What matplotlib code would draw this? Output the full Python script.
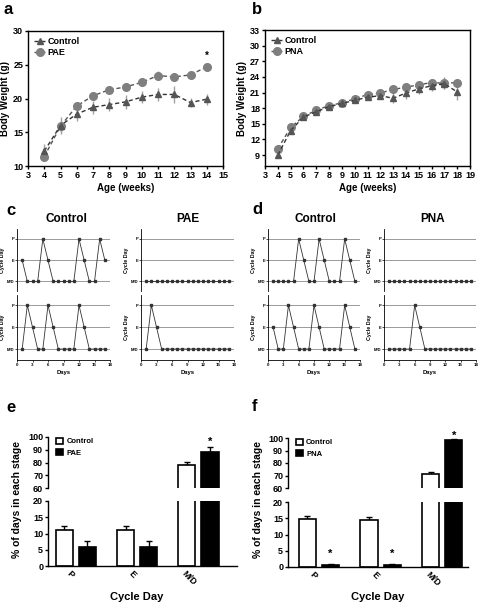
import matplotlib
matplotlib.use("Agg")
import matplotlib.pyplot as plt
import numpy as np

plt.rcParams['font.family'] = ['Liberation Sans', 'DejaVu Sans']
plt.rcParams['font.weight'] = 'bold'

# ---------------- data ----------------
weeks_a = [4, 5, 6, 7, 8, 9, 10, 11, 12, 13, 14]
ctrl_a = [12.2, 16.0, 17.7, 18.7, 19.1, 19.5, 20.2, 20.6, 20.6, 19.4, 19.9]
ctrl_a_err = [1.1, 1.3, 1.0, 1.0, 1.0, 1.0, 0.9, 1.0, 1.2, 0.7, 0.8]
pae_a = [11.4, 15.9, 18.9, 20.4, 21.3, 21.7, 22.4, 23.4, 23.2, 23.5, 24.7]
pae_a_err = [0.6, 0.8, 0.6, 0.6, 0.6, 0.6, 0.6, 0.7, 0.6, 0.5, 0.6]

weeks_b = [4, 5, 6, 7, 8, 9, 10, 11, 12, 13, 14, 15, 16, 17, 18]
ctrl_b = [9.0, 13.7, 16.3, 17.3, 18.3, 18.9, 19.5, 20.1, 20.4, 19.9, 20.9, 21.7, 22.3, 22.7, 21.1]
ctrl_b_err = [0.4, 0.5, 0.4, 0.4, 0.4, 0.4, 0.5, 0.5, 0.6, 1.0, 1.2, 1.0, 1.0, 1.0, 1.6]
pna_b = [10.2, 14.3, 16.4, 17.6, 18.5, 19.0, 19.8, 20.6, 20.9, 21.6, 22.0, 22.5, 22.9, 22.8, 22.9]
pna_b_err = [0.4, 0.4, 0.3, 0.4, 0.4, 0.4, 0.4, 0.4, 0.5, 0.5, 0.5, 0.6, 0.7, 1.2, 0.6]

days = list(range(1, 18))
stage_ticks = ['M/D', 'E', 'P']   # 0, 1, 2
ctrl_c_top = [1, 0, 0, 0, 2, 1, 0, 0, 0, 0, 0, 2, 1, 0, 0, 2, 1]
ctrl_c_bot = [0, 2, 1, 0, 0, 2, 1, 0, 0, 0, 0, 2, 1, 0, 0, 0, 0]
pae_c_top = [0] * 17
pae_c_bot = [0, 2, 1] + [0] * 14
ctrl_d_top = [0, 0, 0, 0, 0, 2, 1, 0, 0, 2, 1, 0, 0, 0, 2, 1, 0]
ctrl_d_bot = [1, 0, 0, 2, 1, 0, 0, 0, 2, 1, 0, 0, 0, 0, 2, 1, 0]
pna_d_top = [0] * 17
pna_d_bot = [0, 0, 0, 0, 0, 2, 1] + [0] * 10

stages = ['P', 'E', 'M/D']
ctrl_e = [11.0, 11.0, 78.0]
ctrl_e_err = [1.3, 1.3, 2.5]
pae_e = [6.0, 6.0, 88.5]
pae_e_err = [1.8, 1.8, 3.5]
ctrl_f = [14.8, 14.4, 71.0]
ctrl_f_err = [0.9, 1.0, 1.5]
pna_f = [0.6, 0.6, 98.7]
pna_f_err = [0.3, 0.3, 0.6]

W, H = 480, 607
fig = plt.figure(figsize=(W / 100, H / 100), dpi=100)


def add_ax(x0, y0, x1, y1):
    return fig.add_axes([x0 / W, 1 - y1 / H, (x1 - x0) / W, (y1 - y0) / H])


def ptxt(x, y, s, **kw):
    fig.text(x / W, 1 - y / H, s, **kw)


# ---------------- weight panels ----------------
def weight_panel(box, weeks, c, ce, t, te, tname, xlim, ylim, yticks, star_y=None):
    ax = add_ax(*box)
    ax.errorbar(weeks, c, yerr=ce, fmt='none', ecolor='#a0a0a0', elinewidth=1, zorder=1)
    ax.errorbar(weeks, t, yerr=te, fmt='none', ecolor='#a0a0a0', elinewidth=1, zorder=1)
    ax.plot(weeks, t, linestyle=(0, (3, 2)), color='#555555', lw=1.0, marker='o',
            ms=5.5, mfc='#7f7f7f', mec='#7f7f7f', label=tname, zorder=3)
    ax.plot(weeks, c, linestyle=(0, (3, 2)), color='#333333', lw=1.0, marker='^',
            ms=4.5, mfc='#555555', mec='#555555', label='Control', zorder=4)
    h, l = ax.get_legend_handles_labels()
    ax.legend(h[::-1], l[::-1], loc='upper left', frameon=False,
              handlelength=1.2, handletextpad=0.3, borderaxespad=0.3, labelspacing=0.2,
              prop={'weight': 'bold', 'size': 6.5})
    ax.set_xlim(*xlim)
    ax.set_ylim(*ylim)
    ax.set_xticks(range(xlim[0], xlim[1] + 1))
    ax.set_yticks(yticks)
    ax.tick_params(labelsize=6.5, length=2.5, width=1, pad=1)
    for lab in ax.get_xticklabels() + ax.get_yticklabels():
        lab.set_fontweight('bold')
    for s in ax.spines.values():
        s.set_linewidth(1)
    ax.set_xlabel('Age (weeks)', fontsize=7, fontweight='bold', labelpad=2)
    ax.set_ylabel('Body Weight (g)', fontsize=7, fontweight='bold', labelpad=2)
    if star_y is not None:
        ax.text(weeks[-1], star_y, '*', ha='center', va='center', fontsize=7, fontweight='bold')
    return ax


weight_panel((28, 31, 223, 166), weeks_a, ctrl_a, ctrl_a_err, pae_a, pae_a_err, 'PAE',
             (3, 15), (10, 30), [10, 15, 20, 25, 30], star_y=26.3)
weight_panel((265, 30, 470, 166), weeks_b, ctrl_b, ctrl_b_err, pna_b, pna_b_err, 'PNA',
             (3, 19), (6.9, 33), [9, 12, 15, 18, 21, 24, 27, 30, 33])


# ---------------- cycle panels ----------------
def cycle_ax(box, vals, bottom):
    ax = add_ax(*box)
    for yv in (0, 1, 2):
        ax.axhline(yv, color='#9a9a9a', lw=0.7, zorder=1)
    ax.plot(days, vals, color='#333333', lw=0.6, marker='s', ms=1.6, mfc='#333333',
            mec='#333333', zorder=3, clip_on=False)
    ax.set_xlim(0, 18)
    ax.set_ylim(-0.45 if not bottom else -0.5, 2.47)
    ax.set_yticks([0, 1, 2])
    ax.set_yticklabels(stage_ticks)
    ax.spines['top'].set_visible(False)
    ax.spines['right'].set_visible(False)
    ax.spines['left'].set_linewidth(0.6)
    ax.tick_params(axis='y', labelsize=3, length=1.5, width=0.5, pad=0.5)
    if bottom:
        ax.spines['bottom'].set_linewidth(0.6)
        ax.set_xticks([0, 3, 6, 9, 12, 15, 18])
        ax.tick_params(axis='x', labelsize=3.2, length=1.5, width=0.5, pad=1)
        ax.set_xlabel('Days', fontsize=4.2, fontweight='bold', labelpad=1.5)
    else:
        ax.spines['bottom'].set_visible(False)
        ax.set_xticks([])
    ax.set_ylabel('Cycle Day', fontsize=3.8, fontweight='bold', labelpad=1)
    return ax


cycle_ax((17, 229, 110, 291), ctrl_c_top, False)
cycle_ax((17, 295, 110, 360), ctrl_c_bot, True)
cycle_ax((141, 229, 234, 291), pae_c_top, False)
cycle_ax((141, 295, 234, 360), pae_c_bot, True)
cycle_ax((268, 229, 360, 291), ctrl_d_top, False)
cycle_ax((268, 295, 360, 360), ctrl_d_bot, True)
cycle_ax((384, 229, 476, 291), pna_d_top, False)
cycle_ax((384, 295, 476, 360), pna_d_bot, True)

ptxt(66, 219, 'Control', ha='center', va='center', fontsize=8.5, fontweight='bold')
ptxt(188, 219, 'PAE', ha='center', va='center', fontsize=8.5, fontweight='bold')
ptxt(315, 219, 'Control', ha='center', va='center', fontsize=8.5, fontweight='bold')
ptxt(433, 219, 'PNA', ha='center', va='center', fontsize=8.5, fontweight='bold')


# ---------------- bar panels ----------------
def bar_panel(up_box, lo_box, c, ce, t, te, tname, xl, stars_lo, star_up, xlab_x):
    up = add_ax(*up_box)
    lo = add_ax(*lo_box)
    x = np.arange(len(stages))
    off, bw = 0.188, 0.28
    for ax in (up, lo):
        ax.bar(x - off, c, width=bw, color='white', edgecolor='black', lw=1.2, zorder=2)
        ax.bar(x + off, t, width=bw, color='black', edgecolor='black', lw=1.2, zorder=2)
        ax.errorbar(x - off, c, yerr=[np.zeros(3), ce], fmt='none', ecolor='black',
                    elinewidth=1, capsize=2, capthick=1, zorder=1)
        ax.errorbar(x + off, t, yerr=[np.zeros(3), te], fmt='none', ecolor='black',
                    elinewidth=1, capsize=2, capthick=1, zorder=1)
        ax.set_xlim(*xl)
        ax.spines['top'].set_visible(False)
        ax.spines['right'].set_visible(False)
        ax.spines['left'].set_linewidth(1)
        ax.tick_params(axis='y', labelsize=6.5, length=2.5, width=1, pad=1)
    up.set_ylim(60, 100)
    up.set_yticks([60, 70, 80, 90, 100])
    up.spines['bottom'].set_visible(False)
    up.set_xticks([])
    lo.set_ylim(0, 20)
    lo.set_yticks([0, 5, 10, 15, 20])
    lo.spines['bottom'].set_linewidth(1)
    lo.set_xticks(x)
    lo.set_xticklabels(stages, rotation=-45, ha='right', va='top', fontsize=6.5,
                       fontweight='bold')
    lo.tick_params(axis='x', length=0, pad=2)
    for lab in up.get_yticklabels() + lo.get_yticklabels():
        lab.set_fontweight('bold')
    for i, sy in stars_lo:
        lo.text(x[i] + off, sy, '*', ha='center', va='center', fontsize=8, fontweight='bold')
    if star_up is not None:
        up.text(x[2] + off, star_up, '*', ha='center', va='center', fontsize=8,
                fontweight='bold', clip_on=False)
    up.bar([0], [0], color='white', edgecolor='black', lw=1.2, label='Control')
    up.bar([0], [0], color='black', edgecolor='black', lw=1.2, label=tname)
    up.legend(loc='upper left', bbox_to_anchor=(0.02, 1.08), frameon=False,
              prop={'weight': 'bold', 'size': 5.5}, handlelength=0.9, handleheight=0.9,
              handletextpad=0.4, labelspacing=0.45, borderaxespad=0.2)
    ptxt(xlab_x, 597, 'Cycle Day', ha='center', va='center', fontsize=8, fontweight='bold')
    return up, lo


bar_panel((48, 437, 237, 488), (48, 501, 237, 566), ctrl_e, ctrl_e_err, pae_e, pae_e_err,
          'PAE', (-0.457, 2.63), [], 96.5, 137)
bar_panel((288, 438, 468, 488), (288, 502, 468, 567), ctrl_f, ctrl_f_err, pna_f, pna_f_err,
          'PNA', (-0.504, 2.42), [(0, 4.2), (1, 4.2)], 101.5, 378)

ptxt(17, 500, '% of days in each stage', rotation=90, ha='center', va='center',
     fontsize=7.5, fontweight='bold')
ptxt(258, 500, '% of days in each stage', rotation=90, ha='center', va='center',
     fontsize=7.5, fontweight='bold')

# panel letters
for (px, py, s) in [(4, 14, 'a'), (252, 14, 'b'), (6, 215, 'c'), (252, 214, 'd'),
                    (6, 412, 'e'), (252, 411, 'f')]:
    ptxt(px, py, s, ha='left', va='baseline', fontsize=12, fontweight='bold')

fig.savefig('out.png', dpi=100)
